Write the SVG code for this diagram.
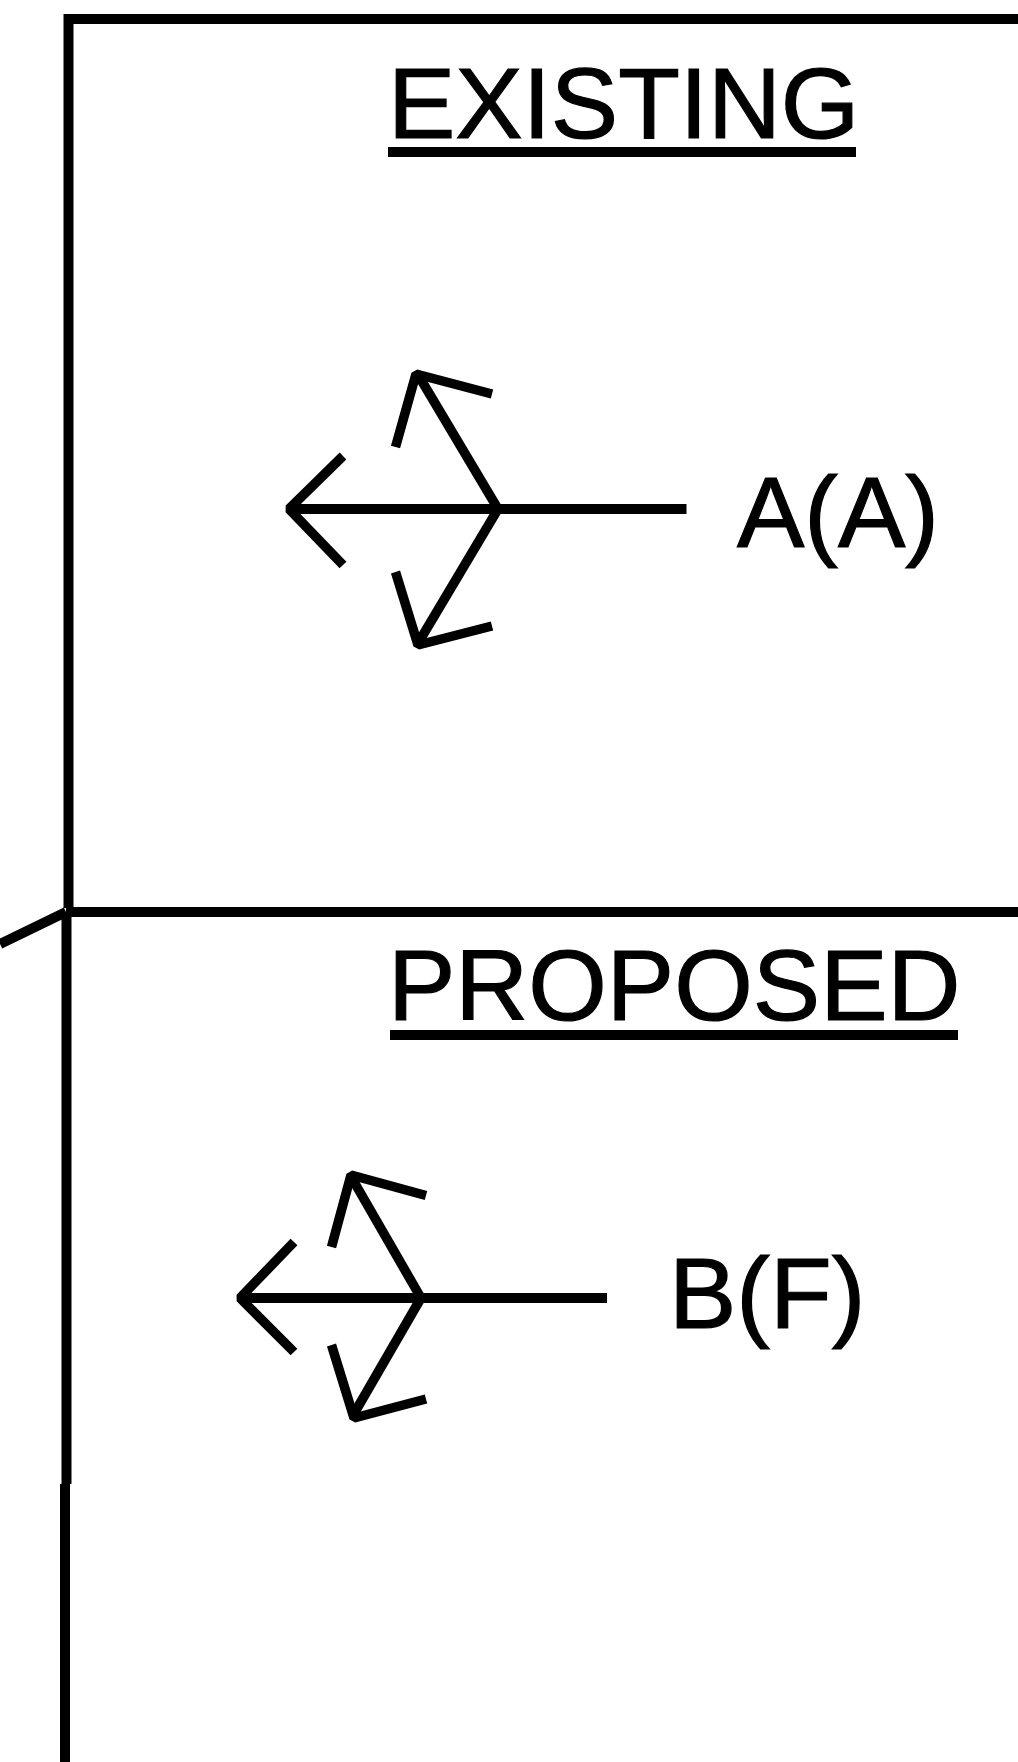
<svg xmlns="http://www.w3.org/2000/svg" width="1018" height="1762" viewBox="0 0 1018 1762">
<style>
.l{fill:none;stroke:#000;stroke-width:10;stroke-linejoin:miter}
.a{fill:none;stroke:#000;stroke-width:9.5;stroke-linejoin:bevel}
.t{font-family:"Liberation Sans",Arial,sans-serif;font-size:101px;fill:#000;stroke:#000;stroke-width:1.2}
</style>
<rect width="1018" height="1762" fill="#fff"/>
<g id="frame">
<path class="l" d="M1018 19H68.5V908"/>
<path class="l" d="M1018 912H66"/>
<path class="l" d="M0 944L66 912"/>
<path class="l" d="M66.5 912V1484"/>
<path class="l" d="M65 1484V1762"/>
</g>
<g id="existing-title">
<text class="t" x="388" y="138">EXISTING</text>
<line class="l" x1="388" y1="152" x2="856" y2="152"/>
</g>
<g id="proposed-title">
<text class="t" x="388" y="1020">PROPOSED</text>
<line class="l" x1="390" y1="1035" x2="958" y2="1035"/>
</g>
<g id="arrow-a">
<path class="l" d="M686.5 509H290"/>
<path class="a" d="M343 456L289 509L343 565"/>
<path class="a" d="M498 509L420 378"/>
<path class="a" d="M395.5 447L416 374L492 394"/>
<path class="a" d="M498 509L420 640"/>
<path class="a" d="M395.5 572L418 645L492 626"/>
<text class="t" x="737" y="547">A(A)</text>
</g>
<g id="arrow-b">
<path class="l" d="M607 1298H241"/>
<path class="a" d="M294 1242L240 1298L294 1352"/>
<path class="a" d="M421 1298L353 1180"/>
<path class="a" d="M331.5 1247L351 1175L426 1195.5"/>
<path class="a" d="M421 1298L355 1412"/>
<path class="a" d="M331.5 1345L354 1418L426 1399"/>
<text class="t" x="669" y="1328">B(F)</text>
</g>
</svg>
